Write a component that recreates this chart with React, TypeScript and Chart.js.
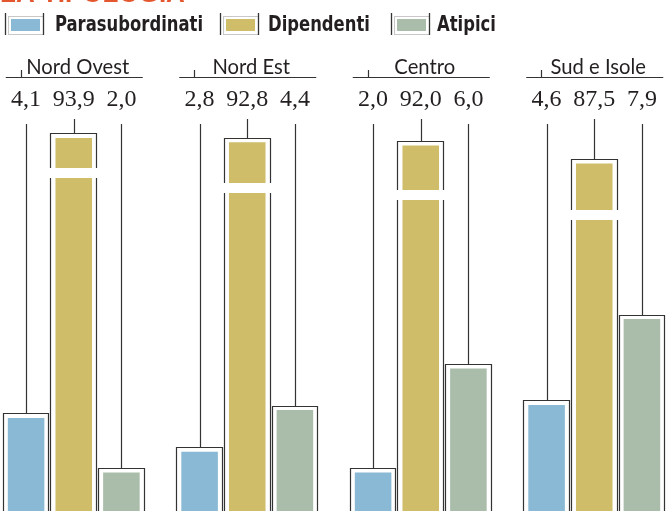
import { useEffect, useRef } from "react";
import { Chart, registerables } from "chart.js";

Chart.register(...registerables);

// ---- data ----
const titleText = "LA TIPOLOGIA";
const areas = ["Nord Ovest", "Nord Est", "Centro", "Sud e Isole"];
const seriesNames = ["Parasubordinati", "Dipendenti", "Atipici"];
const parasubordinati = [4.1, 2.8, 2.0, 4.6];
const dipendenti = [93.9, 92.8, 92.0, 87.5];
const atipici = [2.0, 4.4, 6.0, 7.9];

// ---- style ----
const colors = ["#89b9d4", "#cfbd6a", "#aabdaa"];
const CANVAS_W = 694;
const CANVAS_H = 511;
const OFFSET_X = -13; // page x of canvas left
const breakOffsets = [30, 41, 45, 46]; // visual break in the Dipendenti bars (px below bar top)
const leaderTops = [124, 119, 124];

const fmt = (v: number) => v.toFixed(1).replace(".", ",");
const px = (pageX: number) => pageX - OFFSET_X;

const overlayPlugin = {
  id: "overlay",
  afterDatasetsDraw(chart: any) {
    const ctx: CanvasRenderingContext2D = chart.ctx;
    const xScale = chart.scales.x;
    ctx.save();

    // title (cut off at top)
    ctx.fillStyle = "#e4572e";
    ctx.font = 'bold 26px "Liberation Sans", Arial, sans-serif';
    ctx.textAlign = "left";
    ctx.textBaseline = "alphabetic";
    ctx.fillText(titleText, px(0), 2);

    // legend
    ctx.font = 'bold 22px "Liberation Sans Narrow", "DejaVu Sans Condensed", "Liberation Sans", sans-serif';
    const legScale = 148 / ctx.measureText(seriesNames[0]).width;
    const legIconX = [5, 220, 391];
    const legTextX = [55, 268, 437];
    seriesNames.forEach((name, i) => {
      const ix = px(legIconX[i]);
      ctx.fillStyle = colors[i];
      ctx.fillRect(ix + 6, 19, 29, 12);
      ctx.strokeStyle = "#c8c8c8";
      ctx.lineWidth = 1;
      ctx.strokeRect(ix + 3.5, 16.5, 35, 18);
      ctx.strokeStyle = "#333";
      ctx.lineWidth = 1.3;
      ctx.beginPath();
      ctx.moveTo(ix + 0.5, 13);
      ctx.lineTo(ix + 0.5, 35);
      ctx.moveTo(ix + 38.5, 13);
      ctx.lineTo(ix + 38.5, 35);
      ctx.stroke();
      ctx.fillStyle = "#231f20";
      ctx.save();
      ctx.translate(px(legTextX[i]), 31);
      ctx.scale(legScale, 1);
      ctx.textAlign = "left";
      ctx.fillText(name, 0, 0);
      ctx.restore();
    });

    // group labels
    ctx.font = '21px Lato, "Open Sans", "Noto Sans", sans-serif';
    const grpScale = 103 / ctx.measureText(areas[0]).width;
    areas.forEach((area, j) => {
      const c = xScale.getPixelForValue(j);
      const l = c - 68;
      const r = c + 69;
      ctx.strokeStyle = "#333";
      ctx.lineWidth = 1.2;
      ctx.beginPath();
      ctx.moveTo(l, 77.5);
      ctx.lineTo(r, 77.5);
      ctx.moveTo(Math.round(l + 15) + 0.5, 77.5);
      ctx.lineTo(Math.round(l + 15) + 0.5, 70);
      ctx.stroke();
      ctx.fillStyle = "#231f20";
      ctx.save();
      ctx.translate(c + 4, 74);
      ctx.scale(grpScale, 1);
      ctx.textAlign = "center";
      ctx.fillText(area, 0, 0);
      ctx.restore();
    });

    // bars: outlines, leaders, values, breaks
    ctx.font = '23px "Liberation Serif", "DejaVu Serif", serif';
    const valScale = 42 / ctx.measureText("93,9").width;
    chart.data.datasets.forEach((ds: any, i: number) => {
      const meta = chart.getDatasetMeta(i);
      meta.data.forEach((bar: any, j: number) => {
        const { x, y, width } = bar.getProps(["x", "y", "width"], true);
        const left = x - width / 2;
        const right = x + width / 2;
        const ol = Math.round(left - 5) + 0.5;
        const orr = Math.round(right + 5) - 0.5;
        const ot = Math.round(y - 4.5) + 0.5;
        const cx = Math.round(x) + 0.5;

        ctx.strokeStyle = "#333";
        ctx.lineWidth = 1.2;
        ctx.beginPath();
        ctx.moveTo(ol, CANVAS_H + 5);
        ctx.lineTo(ol, ot);
        ctx.lineTo(orr, ot);
        ctx.lineTo(orr, CANVAS_H + 5);
        ctx.moveTo(cx, leaderTops[i]);
        ctx.lineTo(cx, ot);
        ctx.stroke();

        if (i === 1) {
          ctx.fillStyle = "#ffffff";
          ctx.fillRect(ol - 2, Math.round(y + breakOffsets[j]), orr - ol + 4, 10);
        }

        ctx.fillStyle = "#231f20";
        ctx.save();
        ctx.translate(x, 106);
        ctx.scale(valScale, 1);
        ctx.textAlign = "center";
        ctx.fillText(fmt(ds.data[j]), 0, 0);
        ctx.restore();
      });
    });

    ctx.restore();
  },
};

export default function App() {
  const canvasRef = useRef<HTMLCanvasElement | null>(null);

  useEffect(() => {
    if (!canvasRef.current) return;
    const chart = new Chart(canvasRef.current, {
      type: "bar",
      data: {
        labels: areas,
        datasets: [
          { label: seriesNames[0], data: parasubordinati, backgroundColor: colors[0], yAxisID: "y" },
          { label: seriesNames[1], data: dipendenti, backgroundColor: colors[1], yAxisID: "y2" },
          { label: seriesNames[2], data: atipici, backgroundColor: colors[2], yAxisID: "y" },
        ],
      },
      options: {
        responsive: false,
        animation: false,
        devicePixelRatio: 1,
        events: [],
        layout: { padding: { top: 120, bottom: 0, left: 0, right: 0 } },
        datasets: { bar: { categoryPercentage: 0.824, barPercentage: 0.767 } } as any,
        plugins: {
          legend: { display: false },
          tooltip: { enabled: false },
          title: { display: false },
        },
        scales: {
          x: { display: false },
          y: { display: false, min: 0.52, max: 0.52 + 391 / 26 },
          y2: { display: false, position: "right", min: 0.625, max: 0.625 + 391 / 4 },
        },
      } as any,
      plugins: [overlayPlugin],
    });
    return () => chart.destroy();
  }, []);

  return (
    <canvas
      ref={canvasRef}
      width={CANVAS_W}
      height={CANVAS_H}
      style={{
        position: "fixed",
        left: OFFSET_X,
        top: 0,
        width: CANVAS_W,
        height: CANVAS_H,
        display: "block",
        background: "#fff",
      }}
    />
  );
}
